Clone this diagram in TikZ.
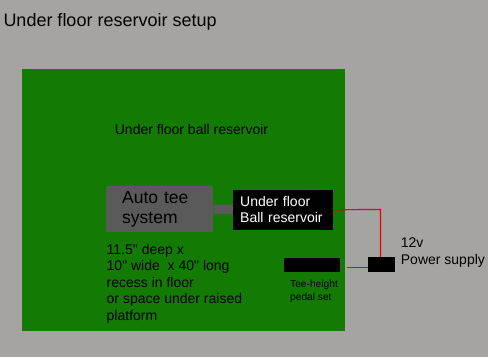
\documentclass[tikz,border=0pt]{standalone}
\usepackage{fontspec}
\setmainfont{Liberation Sans}[Ligatures=TeXOff]
\usepackage{xcolor}
\usepackage{tikz}
\usetikzlibrary{calc}
\definecolor{bggrey}{HTML}{A6A4A3}
\definecolor{floorgreen}{HTML}{137A04}
\definecolor{teegrey}{HTML}{5A5A5A}
\definecolor{wirered}{RGB}{235,0,0}

\begin{document}
\begin{tikzpicture}[x=1pt,y=-1pt,
    blk/.style={fill=black,inner sep=0pt,anchor=north west},
    lbl/.style={anchor=base west,inner sep=0pt,align=left},
    wire/.style={wirered,line width=1.2pt}]
            \fill[bggrey] (0,0) rectangle (488,357);
            \useasboundingbox (0,0) rectangle (488,357);
            \node[lbl,font=\fontsize{18}{21}\selectfont] (title) at (3.3,26.7) {Under floor reservoir setup};
            \node[fill=floorgreen,inner sep=0pt,anchor=north west,minimum width=323pt,minimum height=262pt] (floor) at (22,69) {};
            \node[anchor=base,inner sep=0pt,font=\fontsize{14}{16}\selectfont] (floorlbl) at (191.5,134) {Under floor ball reservoir};
            \node[fill=teegrey,anchor=north west,minimum width=107pt,minimum height=46pt,inner xsep=16pt,inner ysep=0pt,text width=75pt,align=left,font=\fontsize{17.5}{19.5}\selectfont] (tee) at (106,186) {Auto tee\\system};
            \node[blk,minimum width=100pt,minimum height=40pt,inner xsep=7pt,text width=86pt,align=left,text=white,font=\fontsize{14}{15.5}\selectfont] (res) at (233,189.5) {Under floor\\Ball reservoir};
            \draw[teegrey,line width=9pt] (tee.east) -- (res.west);
            \node[lbl,font=\fontsize{14}{16.6}\selectfont] (size) at (106.5,320.5) {11.5" deep x\\10" wide\hspace{0.556em}x 40" long\\recess in floor\\or space under raised\\platform};
            \node[blk,minimum width=56pt,minimum height=14pt] (pedal) at (284,258) {};
            \node[lbl,font=\fontsize{10.2}{13}\selectfont] (pedallbl) at (290,300) {Tee-height\\pedal set};
            \node[blk,minimum width=27pt,minimum height=15pt] (power) at (368,257) {};
            \node[lbl,font=\fontsize{14}{17}\selectfont] (powerlbl) at (400.7,264) {12v\\Power supply};
            \coordinate (bend) at (380.5,209.5);
            \coordinate (pedalwire) at (346.5,267.5);
            \draw[wire] (res.east) -- (bend) -- (bend |- power.north);
            \draw[wire] (pedalwire) -- (pedalwire -| power.west);
        \end{tikzpicture}
\end{document}
